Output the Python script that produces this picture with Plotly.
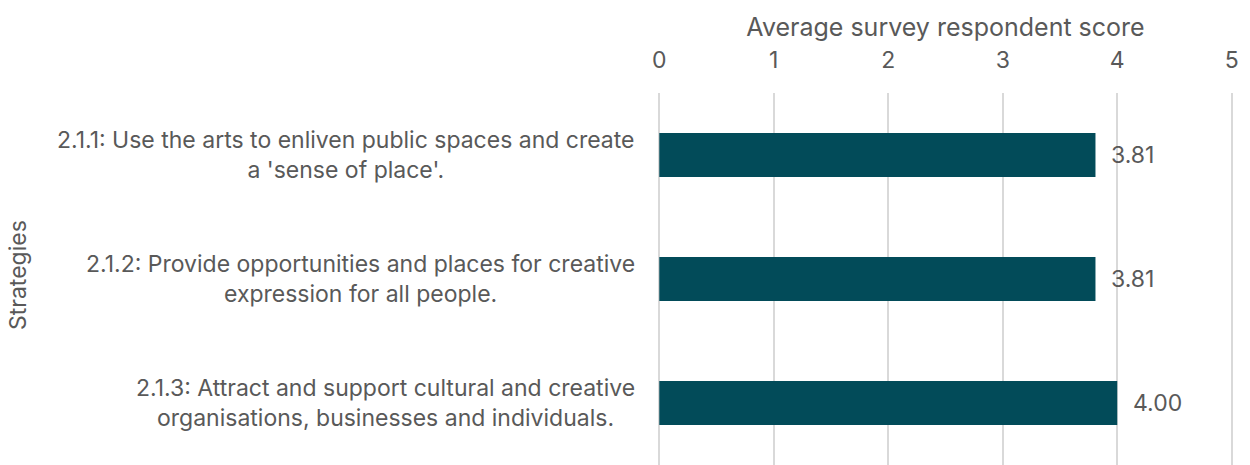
import plotly.graph_objects as go

# Strategy labels (line breaks as set in the chart) and average scores
strategies = [
    "2.1.1: Use the arts to enliven public spaces and create<br>a 'sense of place'.",
    "2.1.2: Provide opportunities and places for creative<br>expression for all people.",
    "2.1.3: Attract and support cultural and creative<br>organisations, businesses and individuals.",
]
scores = [3.81, 3.81, 4.00]
x_ticks = [0, 1, 2, 3, 4, 5]

BAR = "#024B59"
TXT = "#595959"
GRID = "#D9D9D9"
FONT = "Inter, Open Sans, sans-serif"

ids = ["s1", "s2", "s3"]

fig = go.Figure(
    go.Bar(
        x=scores,
        y=ids,
        orientation="h",
        marker=dict(color=BAR, line=dict(width=0)),
        width=0.355,
        hoverinfo="skip",
    )
)

annotations = []
for cid, label, val in zip(ids, strategies, scores):
    # category label, right aligned beside the axis, lines centred
    annotations.append(dict(
        x=0, xref="x", y=cid, yref="y", text=label, showarrow=False,
        xanchor="right", yanchor="middle", align="center", xshift=-22,
        font=dict(family=FONT, size=23, color=TXT),
    ))
    # value label past the bar end
    annotations.append(dict(
        x=val, xref="x", y=cid, yref="y", text=f"{val:.2f}", showarrow=False,
        xanchor="left", yanchor="middle", xshift=14,
        font=dict(family=FONT, size=23, color=TXT),
    ))

# rotated axis title at the left edge
annotations.append(dict(
    x=0, xref="paper", y=0.5, yref="paper", text="Strategies", showarrow=False,
    textangle=-90, xanchor="center", xshift=-639, yshift=4,
    font=dict(family=FONT, size=23, color=TXT),
))

fig.update_layout(
    width=1250, height=465,
    margin=dict(l=657, r=16, t=93, b=0),
    paper_bgcolor="white", plot_bgcolor="white",
    showlegend=False,
    annotations=annotations,
    xaxis=dict(
        side="top", range=[-0.02, 5.02], tickvals=x_ticks,
        ticktext=[str(t) for t in x_ticks],
        showgrid=True, gridcolor=GRID, gridwidth=1.5, zeroline=False, showline=False,
        ticks="", ticklabelstandoff=19,
        tickfont=dict(family=FONT, size=23, color=TXT),
        title=dict(text="Average survey respondent score", standoff=2,
                   font=dict(family=FONT, size=25, color=TXT)),
    ),
    yaxis=dict(
        categoryorder="array", categoryarray=ids, autorange="reversed",
        showticklabels=False, showgrid=False, zeroline=False, showline=False, ticks="",
    ),
)

fig.write_html("out.html")
